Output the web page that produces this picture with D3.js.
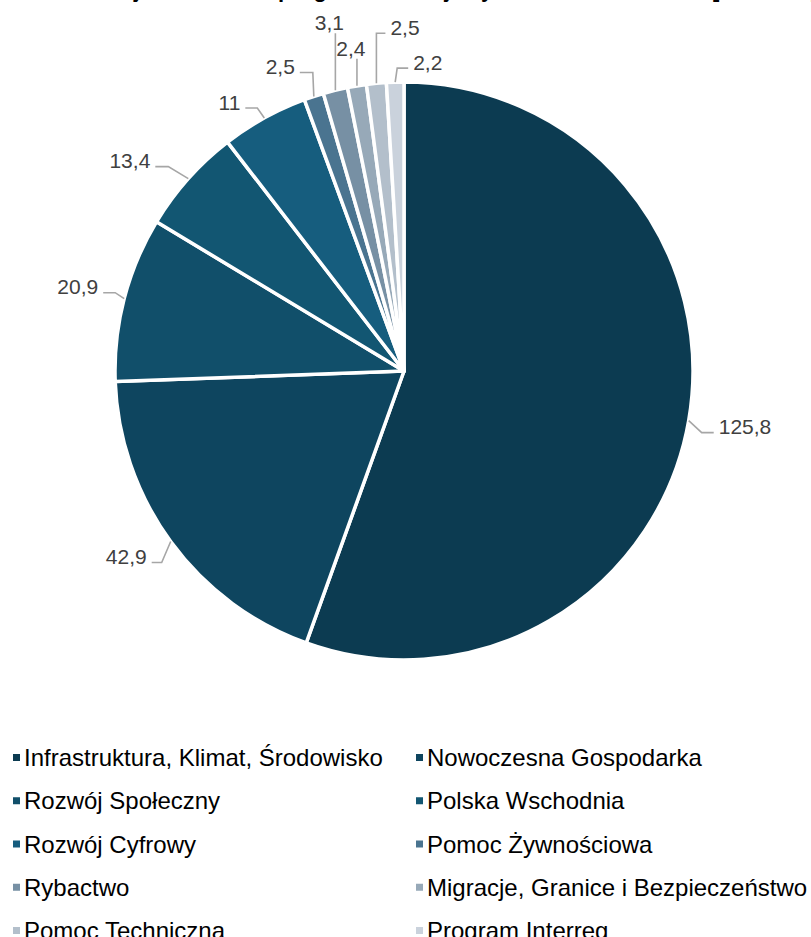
<!DOCTYPE html>
<html lang="pl">
<head>
<meta charset="UTF-8">
<script src="https://d3js.org/d3.v7.min.js"></script>
<style>
body { margin: 0; background: #fff; }
svg { display: block; font-family: Arial, "Liberation Sans", sans-serif; }
.lbl { font-size: 21px; fill: #404040; }
.leg { font-size: 24px; fill: #000; }
.title { font-size: 22px; font-weight: bold; fill: #000; }
</style>
</head>
<body>
<div id="chart"></div>
<script>
// data (mld), clockwise from 12 o'clock
const categories = [
  "Infrastruktura, Klimat, Środowisko",
  "Nowoczesna Gospodarka",
  "Rozwój Społeczny",
  "Polska Wschodnia",
  "Rozwój Cyfrowy",
  "Pomoc Żywnościowa",
  "Rybactwo",
  "Migracje, Granice i Bezpieczeństwo",
  "Pomoc Techniczna",
  "Program Interreg"
];
const values = [125.8, 42.9, 20.9, 13.4, 11, 2.5, 3.1, 2.4, 2.5, 2.2];
const colors = ["#0c3b51", "#0e455f", "#114f6a", "#125672", "#165d7e",
                "#4a7490", "#7790a4", "#97a9b8", "#b3bfcb", "#cad2dc"];

// leader layout: elbow offset from the slice edge [dx, dy] and horizontal tail length
const leaders = [[13, 12, 12], [-9, 21, -10], [-9, -6, -12], [-20, -12, -13], [-7, -10, -12],
                 [-1, -24, -13], [0, -57, 0], [0, -27, 0], [0, -50, 9], [2, -14, 11]];

const width = 811, height = 937;
const cx = 404, cy = 371, radius = 289;

const svg = d3.select("#chart").append("svg")
  .attr("width", width)
  .attr("height", height);

// title is clipped by the top edge in the source image, only descenders show
svg.append("text")
  .attr("class", "title")
  .attr("x", 440)
  .attr("y", -3)
  .attr("text-anchor", "middle")
  .text("Alokacja środków w programach krajowych na lata 2021-2027 [mld EUR]");

const pie = d3.pie().sort(null).value(d => d);
const arcs = pie(values);
const arc = d3.arc().innerRadius(0).outerRadius(radius);

const g = svg.append("g").attr("transform", `translate(${cx},${cy})`);

g.selectAll("path.slice")
  .data(arcs)
  .enter()
  .append("path")
  .attr("class", "slice")
  .attr("d", arc)
  .attr("fill", (d, i) => colors[i])
  .attr("stroke", "#fff")
  .attr("stroke-width", 3.5)
  .attr("stroke-linejoin", "round");

// data labels with leader lines
const fmt = v => String(v).replace(".", ",");

arcs.forEach((d, i) => {
  const mid = (d.startAngle + d.endAngle) / 2;
  const px = Math.sin(mid) * radius, py = -Math.cos(mid) * radius;
  const [dx, dy, hx] = leaders[i];
  const ex = px + dx, ey = py + dy;
  const tx = ex + hx;
  g.append("path")
    .attr("d", d3.line()([[px, py], [ex, ey], [tx, ey]]))
    .attr("fill", "none")
    .attr("stroke", "#a6a6a6")
    .attr("stroke-width", 1.6);
  const t = g.append("text").attr("class", "lbl").text(fmt(values[i]));
  if (hx === 0) {
    t.attr("x", ex - 6).attr("y", ey - 3).attr("text-anchor", "middle");
  } else if (hx > 0) {
    t.attr("x", tx + 5).attr("y", ey + 1.5).attr("text-anchor", "start");
  } else {
    t.attr("x", tx - 5).attr("y", ey + 1.5).attr("text-anchor", "end");
  }
});

// legend, two columns, filled row by row
const colX = [13, 416];
const rowY = d3.scaleLinear().domain([0, 4]).range([757, 930]);

const leg = svg.selectAll("g.legitem")
  .data(categories)
  .enter()
  .append("g")
  .attr("class", "legitem")
  .attr("transform", (d, i) => `translate(${colX[i % 2]},${rowY(Math.floor(i / 2))})`);

leg.append("rect")
  .attr("x", 0)
  .attr("y", -3)
  .attr("width", 7)
  .attr("height", 7)
  .attr("fill", (d, i) => colors[i]);

leg.append("text")
  .attr("class", "leg")
  .attr("x", 11)
  .attr("y", 9)
  .text(d => d);
</script>
</body>
</html>
